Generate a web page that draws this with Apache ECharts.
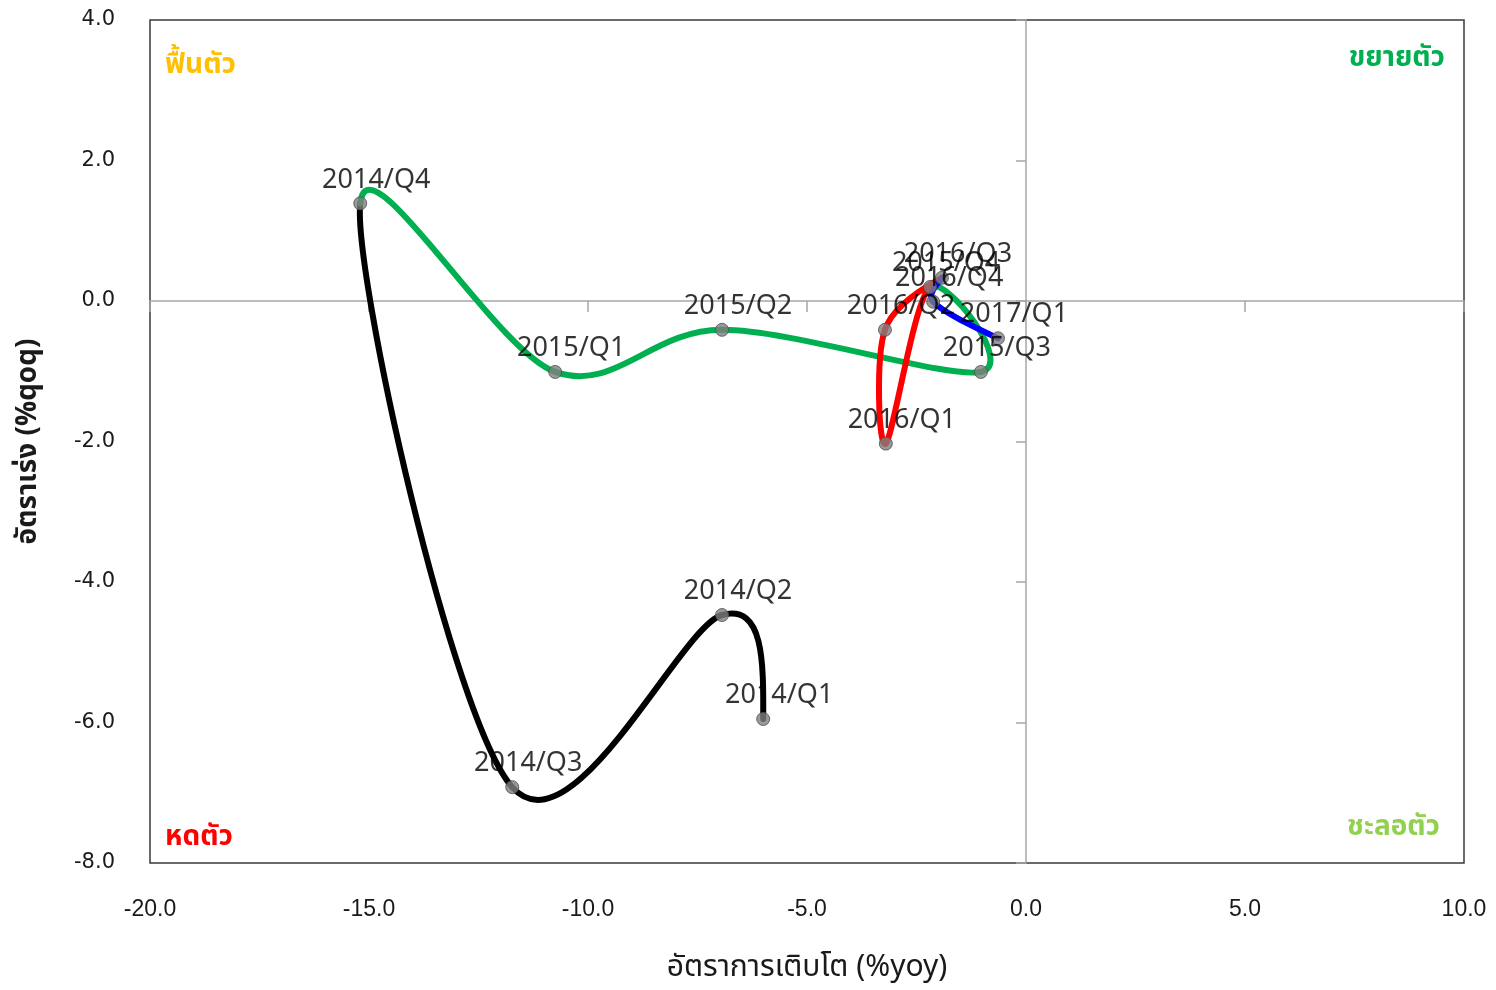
<!DOCTYPE html>
<html>
<head>
<meta charset="utf-8">
<script src="https://cdn.jsdelivr.net/npm/echarts@6/dist/echarts.min.js"></script>
<style>html,body{margin:0;padding:0;background:#fff}#c{width:1496px;height:990px}</style>
</head>
<body>
<div id="c"></div>
<script>
const quarters = ['2014/Q1','2014/Q2','2014/Q3','2014/Q4','2015/Q1','2015/Q2','2015/Q3','2015/Q4','2016/Q1','2016/Q2','2016/Q3','2016/Q4','2017/Q1'];
const yoy = [-6.00, -6.94, -11.73, -15.20, -10.75, -6.94, -1.03, -2.19, -3.20, -3.22, -1.92, -2.12, -0.64];
const qoq = [-5.95, -4.47, -6.92, 1.39, -1.01, -0.41, -1.01, 0.20, -2.03, -0.41, 0.33, -0.01, -0.53];
const xTicks = [-20, -15, -10, -5, 0, 5, 10];
const yTicks = [-8, -6, -4, -2, 0, 2, 4];
// colour of each segment, from the segment's start index to its end index
const segments = [
  {from: 0, to: 3, color: '#000000'},
  {from: 3, to: 7, color: '#00b050'},
  {from: 7, to: 10, color: '#ff0000'},
  {from: 10, to: 12, color: '#0000ff'}
];
const quadrantLabels = [
  {text: 'ฟื้นตัว', color: '#ffc000'},
  {text: 'ขยายตัว', color: '#00b050'},
  {text: 'หดตัว', color: '#ff0000'},
  {text: 'ชะลอตัว', color: '#92d050'}
];

const pts = quarters.map((q, i) => [yoy[i], qoq[i], q]);
const segIdx = [];
segments.forEach(s => { for (let i = s.from; i < s.to; i++) segIdx.push([i, s.color]); });

const chart = echarts.init(document.getElementById('c'));
const thaiFont = '"Noto Sans Thai","Noto Sans","DejaVu Sans",sans-serif';

function smoothSegment(params, api) {
  const i = api.value(0);
  const n = yoy.length;
  const P = k => api.coord([yoy[k], qoq[k]]);
  const p1 = P(i), p2 = P(i + 1);
  function tangent(k) {
    if (k > 0 && k < n - 1) {
      const a = P(k - 1), b = P(k + 1);
      return [(b[0] - a[0]) / 2, (b[1] - a[1]) / 2];
    }
    if (k === 0) {
      const a = P(0), b = P(1), t1 = tangent(1);
      return [(3 * (b[0] - a[0]) - t1[0]) / 2, (3 * (b[1] - a[1]) - t1[1]) / 2];
    }
    const a = P(n - 2), b = P(n - 1), t0 = tangent(n - 2);
    return [(3 * (b[0] - a[0]) - t0[0]) / 2, (3 * (b[1] - a[1]) - t0[1]) / 2];
  }
  const t1 = tangent(i), t2 = tangent(i + 1);
  return {
    type: 'bezierCurve',
    shape: {
      x1: p1[0], y1: p1[1], x2: p2[0], y2: p2[1],
      cpx1: p1[0] + t1[0] / 3, cpy1: p1[1] + t1[1] / 3,
      cpx2: p2[0] - t2[0] / 3, cpy2: p2[1] - t2[1] / 3
    },
    style: {stroke: segIdx[params.dataIndex][1], lineWidth: 6, fill: null, lineCap: 'round'}
  };
}

chart.setOption({
  animation: false,
  grid: {left: 150, right: 32, top: 20, bottom: 125, show: true, borderColor: '#3a3a3a', borderWidth: 1.5, backgroundColor: 'transparent'},
  xAxis: [{
    type: 'value', min: xTicks[0], max: xTicks[xTicks.length - 1], interval: 5,
    axisLine: {show: false, onZero: false}, axisTick: {show: false}, splitLine: {show: false},
    axisLabel: {formatter: v => v.toFixed(1), fontFamily: '"Liberation Sans Narrow","Liberation Sans",sans-serif', fontSize: 23, color: '#1a1a1a', margin: 35},
    name: 'อัตราการเติบโต (%yoy)', nameLocation: 'middle', nameGap: 92,
    nameTextStyle: {fontFamily: thaiFont, fontSize: 30, color: '#1a1a1a'}
  }, {
    type: 'value', min: xTicks[0], max: xTicks[xTicks.length - 1], interval: 5,
    position: 'bottom',
    axisLine: {show: true, onZero: true, lineStyle: {color: '#a6a6a6', width: 1.5}},
    axisTick: {show: true, inside: false, length: 11, lineStyle: {color: '#a6a6a6', width: 1.5}},
    axisLabel: {show: false}, splitLine: {show: false}
  }],
  yAxis: [{
    type: 'value', min: yTicks[0], max: yTicks[yTicks.length - 1], interval: 2,
    axisLine: {show: false, onZero: false}, axisTick: {show: false}, splitLine: {show: false},
    axisLabel: {formatter: v => v.toFixed(1), fontFamily: '"DejaVu Sans",sans-serif', fontSize: 21, color: '#1a1a1a', margin: 35},
    name: 'อัตราเร่ง (%qoq)', nameLocation: 'middle', nameGap: 106, nameRotate: 90,
    nameTextStyle: {fontFamily: thaiFont, fontSize: 28, fontWeight: 'bold', color: '#1a1a1a'}
  }, {
    type: 'value', min: yTicks[0], max: yTicks[yTicks.length - 1], interval: 2,
    position: 'left',
    axisLine: {show: true, onZero: true, lineStyle: {color: '#a6a6a6', width: 1.5}},
    axisTick: {show: true, length: 10, lineStyle: {color: '#a6a6a6', width: 1.5}},
    axisLabel: {show: false}, splitLine: {show: false}
  }],
  graphic: [
    {type: 'text', left: 165, top: 53, style: {text: quadrantLabels[0].text, fill: quadrantLabels[0].color, font: 'bold 28px ' + thaiFont}},
    {type: 'text', right: 51, top: 46, style: {text: quadrantLabels[1].text, fill: quadrantLabels[1].color, font: 'bold 28px ' + thaiFont}},
    {type: 'text', left: 165, top: 825, style: {text: quadrantLabels[2].text, fill: quadrantLabels[2].color, font: 'bold 28px ' + thaiFont}},
    {type: 'text', right: 56, top: 815, style: {text: quadrantLabels[3].text, fill: quadrantLabels[3].color, font: 'bold 28px ' + thaiFont}}
  ],
  series: [{
    type: 'custom',
    name: 'path',
    xAxisIndex: 0, yAxisIndex: 0,
    data: segIdx.map(s => [s[0]]),
    renderItem: smoothSegment,
    encode: {x: -1, y: -1},
    silent: true,
    z: 3
  }, {
    type: 'scatter',
    name: 'points',
    data: pts,
    symbol: 'circle',
    symbolSize: 13,
    itemStyle: {color: '#7f7f7f', borderColor: '#4d4d4d', borderWidth: 1},
    label: {
      show: true,
      formatter: p => p.data[2],
      position: 'top',
      offset: [16, 2],
      fontFamily: '"Noto Sans", sans-serif',
      fontSize: 27,
      color: '#000'
    },
    z: 5
  }]
});
</script>
</body>
</html>
